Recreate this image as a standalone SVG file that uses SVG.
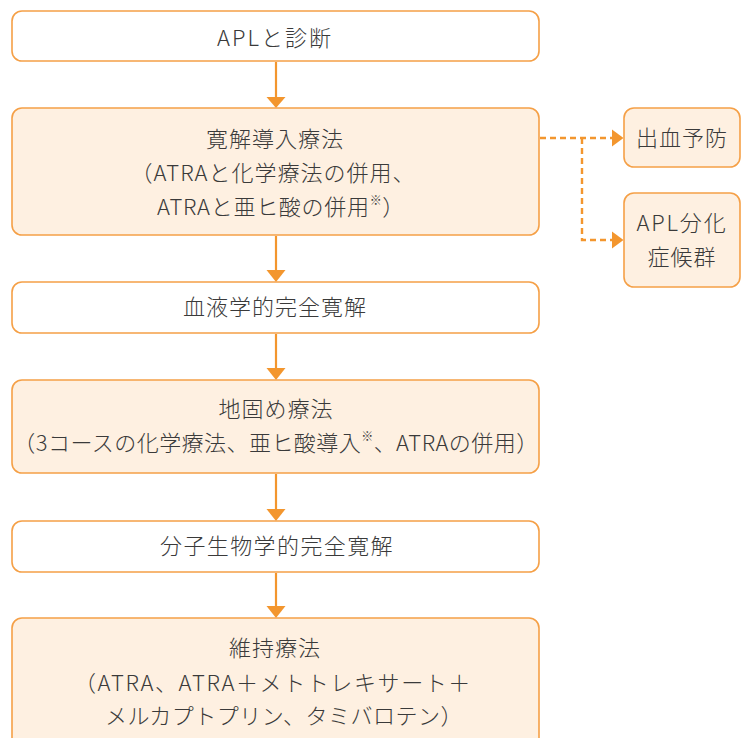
<svg xmlns="http://www.w3.org/2000/svg" width="742" height="738" viewBox="0 0 742 738">
<defs>
<style>
.box{stroke:#F5A047;stroke-width:1.6;}
.w{fill:#FFFFFF;}
.p{fill:#FEF0E1;}
.t{font-family:"Noto Sans CJK JP","Noto Sans",sans-serif;font-size:22px;font-weight:300;letter-spacing:1px;fill:#3A3A3A;text-anchor:middle;}
.sup{font-size:12px;}
.ln{stroke:#F3962E;stroke-width:2.2;fill:none;}
.dash{stroke:#F3962E;stroke-width:2.4;fill:none;stroke-dasharray:6 4;}
.ah{fill:#F3962E;}
</style>
</defs>
<rect width="742" height="738" fill="#FFFFFF"/>

<g id="connectors">
<line class="ln" x1="276" y1="62" x2="276" y2="98"/>
<polygon class="ah" points="266.5,97 285.5,97 276,108"/>
<line class="ln" x1="276" y1="236" x2="276" y2="271"/>
<polygon class="ah" points="266.5,270 285.5,270 276,282"/>
<line class="ln" x1="276" y1="334" x2="276" y2="369"/>
<polygon class="ah" points="266.5,368 285.5,368 276,380"/>
<line class="ln" x1="276" y1="474" x2="276" y2="510"/>
<polygon class="ah" points="266.5,509 285.5,509 276,521"/>
<line class="ln" x1="276" y1="573" x2="276" y2="607"/>
<polygon class="ah" points="266.5,606 285.5,606 276,618"/>
<path class="dash" d="M540,138 H613"/>
<path class="dash" d="M582,138 V240 H613"/>
<polygon class="ah" points="612,129.5 612,146.5 623.5,138"/>
<polygon class="ah" points="612,231.5 612,248.5 623.5,240"/>
</g>

<g id="node-diagnosis">
<rect class="box w" x="12" y="11" width="527" height="50" rx="10"/>
<text class="t" x="275" y="45.5" style="letter-spacing:2px">APLと診断</text>
</g>

<g id="node-induction">
<rect class="box p" x="12" y="108" width="527" height="127" rx="10"/>
<text class="t" x="275" y="147">寛解導入療法</text>
<text class="t" x="273" y="181">（ATRAと化学療法の併用、</text>
<text class="t" x="281" y="215" style="letter-spacing:0.7px">ATRAと亜ヒ酸の併用<tspan class="sup" dy="-10">※</tspan><tspan dy="10">）</tspan></text>
</g>

<g id="node-bleeding">
<rect class="box p" x="624" y="108" width="116" height="59" rx="10"/>
<text class="t" x="682" y="146">出血予防</text>
</g>

<g id="node-differentiation">
<rect class="box p" x="624" y="193" width="116" height="94" rx="10"/>
<text class="t" x="682" y="230.5" style="letter-spacing:1.8px">APL分化</text>
<text class="t" x="682" y="265">症候群</text>
</g>

<g id="node-hcr">
<rect class="box w" x="12" y="282" width="527" height="51" rx="10"/>
<text class="t" x="275" y="315">血液学的完全寛解</text>
</g>

<g id="node-consolidation">
<rect class="box p" x="12" y="380" width="527" height="93" rx="10"/>
<text class="t" x="276" y="417">地固め療法</text>
<text class="t" x="276" y="451" style="letter-spacing:0.45px">（3コースの化学療法、亜ヒ酸導入<tspan class="sup" dy="-10">※</tspan><tspan dy="10">、ATRAの併用）</tspan></text>
</g>

<g id="node-mcr">
<rect class="box w" x="12" y="521" width="527" height="51" rx="10"/>
<text class="t" x="277" y="554" style="letter-spacing:1.4px">分子生物学的完全寛解</text>
</g>

<g id="node-maintenance">
<rect class="box p" x="12" y="618" width="527" height="140" rx="10"/>
<text class="t" x="275" y="656">維持療法</text>
<text class="t" x="273" y="690.5" style="letter-spacing:1.6px">（ATRA、ATRA＋メトトレキサート＋</text>
<text class="t" x="284" y="724" style="letter-spacing:0.5px">メルカプトプリン、タミバロテン）</text>
</g>
</svg>
